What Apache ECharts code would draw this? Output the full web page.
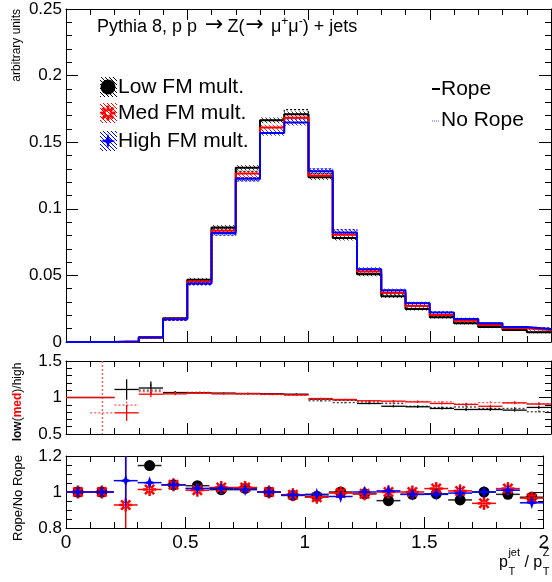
<!DOCTYPE html>
<html><head><meta charset="utf-8">
<script src="https://cdn.jsdelivr.net/npm/echarts/dist/echarts.min.js"></script>
<style>html,body{margin:0;padding:0;background:#fff}#c{width:552px;height:582px}</style>
</head><body><div id="c"></div>
<script>
// ---------------- DATA ----------------
const binStart = [0,0.1,0.2,0.3,0.4,0.5,0.6,0.7,0.8,0.9,1.0,1.1,1.2,1.3,1.4,1.5,1.6,1.7,1.8,1.9];
const binWidth = 0.1;

// top panel: normalised distributions (Rope = solid, No Rope = dotted)
const lowRope    = [0,0,0.0003,0.0035,0.0178,0.0467,0.0860,0.1308,0.1664,0.1709,0.1237,0.0780,0.0508,0.0343,0.0248,0.0186,0.0141,0.0113,0.0090,0.0073];
const medRope    = [0,0,0.0003,0.0034,0.0175,0.0455,0.0836,0.1265,0.1610,0.1684,0.1250,0.0805,0.0529,0.0369,0.0271,0.0203,0.0160,0.0128,0.0103,0.0090];
const highRope   = [0,0,0.0003,0.0033,0.0170,0.0440,0.0818,0.1225,0.1570,0.1647,0.1282,0.0823,0.0547,0.0388,0.0291,0.0221,0.0173,0.0141,0.0113,0.0098];
const lowNoRope  = [0,0,0.0003,0.0031,0.0171,0.0451,0.0849,0.1282,0.1664,0.1744,0.1266,0.0780,0.0513,0.0361,0.0251,0.0188,0.0147,0.0113,0.0091,0.0075];
const medNoRope  = [0,0,0.0003,0.0034,0.0168,0.0450,0.0816,0.1234,0.1610,0.1710,0.1287,0.0810,0.0534,0.0369,0.0271,0.0199,0.0159,0.0137,0.0101,0.0093];
const highNoRope = [0,0,0.0003,0.0031,0.0163,0.0431,0.0802,0.1209,0.1570,0.1675,0.1299,0.0844,0.0547,0.0386,0.0295,0.0224,0.0174,0.0141,0.0112,0.0105];
const bandErr    = [0,0,0.0002,0.0005,0.0010,0.0015,0.0018,0.0020,0.0022,0.0022,0.0020,0.0018,0.0015,0.0013,0.0012,0.0010,0.0010,0.0009,0.0008,0.0008];

// middle panel: low/high and med/high
const ratioLowRope       = [1.0,1.0,1.11,1.13,1.068,1.065,1.06,1.055,1.05,1.045,0.977,0.964,0.918,0.88,0.873,0.85,0.836,0.836,0.827,0.864];
const ratioLowRopeErr    = [0,0,0.14,0.09,0.02,0.01,0.01,0.01,0.01,0.01,0.01,0.01,0.012,0.015,0.015,0.015,0.02,0.02,0.02,0.02];
const ratioLowNoRope     = [null,null,null,1.10,1.06,1.07,1.055,1.05,1.05,1.04,0.955,0.93,0.94,0.918,0.88,0.864,0.87,0.85,0.85,0.805];
const ratioLowNoRopeErr  = [0,0,0,0.08,0.02,0.01,0.01,0.01,0.01,0.01,0.01,0.01,0.012,0.015,0.015,0.015,0.02,0.02,0.02,0.02];
const ratioMedRope       = [1.0,1.0,0.79,1.045,1.05,1.06,1.05,1.05,1.045,1.035,0.986,0.973,0.955,0.95,0.94,0.918,0.905,0.88,0.927,0.91];
const ratioMedRopeErr    = [0,0,0.11,0.04,0.02,0.01,0.01,0.01,0.01,0.01,0.01,0.01,0.012,0.015,0.015,0.015,0.02,0.02,0.02,0.02];
const ratioMedNoRope     = [null,0.79,0.895,1.08,1.055,1.06,1.055,1.05,1.04,1.03,0.98,0.96,0.95,0.94,0.945,0.94,0.91,0.93,0.925,0.915];
const ratioMedNoRopeErr  = [0,1.0,0.05,0.04,0.02,0.01,0.01,0.01,0.01,0.01,0.01,0.01,0.012,0.015,0.015,0.015,0.02,0.02,0.02,0.02];

// bottom panel: Rope / No Rope
const ropeLow     = [1.0,1.0,null,1.147,1.04,1.035,1.013,1.02,1.0,0.981,0.977,1.0,0.99,0.952,0.987,0.99,0.956,1.0,0.987,0.971];
const ropeLowErr  = [0.004,0.01,0,0.015,0.01,0.008,0.008,0.008,0.008,0.008,0.008,0.01,0.01,0.012,0.012,0.012,0.015,0.015,0.015,0.015];
const ropeMed     = [1.0,1.0,0.928,1.014,1.04,1.01,1.025,1.025,1.0,0.985,0.971,0.994,0.99,1.0,1.0,1.019,1.006,0.937,1.019,0.966];
const ropeMedErr  = [0.004,0.01,0.4,0.02,0.01,0.008,0.008,0.008,0.008,0.008,0.008,0.01,0.01,0.012,0.012,0.012,0.015,0.015,0.015,0.015];
const ropeHigh    = [1.0,1.0,1.063,1.052,1.04,1.02,1.02,1.013,1.0,0.983,0.987,0.975,1.0,1.006,0.987,0.987,0.994,1.0,1.01,0.94];
const ropeHighErr = [0.004,0.01,0.145,0.02,0.01,0.008,0.008,0.008,0.008,0.008,0.008,0.01,0.01,0.012,0.012,0.012,0.015,0.015,0.015,0.015];

// ---------------- STYLE / HELPERS ----------------
const FONT = '"Liberation Sans", Arial, Helvetica, sans-serif';
const SYMFONT = '"DejaVu Sans", "Liberation Sans", sans-serif';
const BLACK = '#000000', RED = '#ff0000', BLUE = '#0000ff';

function hatch(color, size) {
  const c = document.createElement('canvas');
  c.width = c.height = size;
  const g = c.getContext('2d');
  g.strokeStyle = color; g.lineWidth = 1;
  g.beginPath();
  for (const k of [-size, 0, size]) { g.moveTo(k, 0); g.lineTo(k + size, size); }
  g.stroke();
  return { image: c, repeat: 'repeat' };
}

function stepData(vals) {
  const d = binStart.map((x, i) => [x, vals[i]]);
  d.push([binStart[binStart.length - 1] + binWidth, vals[vals.length - 1]]);
  return d;
}

function clamp(v, a, b) { return Math.max(a, Math.min(b, v)); }

function bandSeries(vals, errs, color) {
  const pat = hatch(color, 4);
  return {
    type: 'custom', xAxisIndex: 0, yAxisIndex: 0, silent: true, z: 2,
    data: binStart.map((x, i) => [x, vals[i], errs[i]]),
    renderItem(params, api) {
      const x0 = api.value(0), v = api.value(1), e = api.value(2);
      const p1 = api.coord([x0, v + e]), p2 = api.coord([x0 + binWidth, v - e]);
      return { type: 'rect', shape: { x: p1[0], y: p1[1], width: p2[0] - p1[0], height: Math.max(p2[1] - p1[1], 1) },
               style: { fill: pat, opacity: 0.8 } };
    }
  };
}

function histLine(vals, color, dotted) {
  return {
    type: 'line', xAxisIndex: 0, yAxisIndex: 0, step: 'end', symbol: 'none', silent: true,
    z: dotted ? 3 : 4, data: stepData(vals),
    lineStyle: { color: color, width: dotted ? 1.2 : 2, type: dotted ? [2, 2] : 'solid' }
  };
}

function barSeries(axisIdx, vals, errs, color, dotted, width, z) {
  return {
    type: 'custom', xAxisIndex: axisIdx, yAxisIndex: axisIdx, silent: true, z: z || 3,
    data: binStart.map((x, i) => [x, vals[i], errs[i]]).filter(d => d[1] !== null),
    renderItem(params, api) {
      const cs = params.coordSys;
      const x0 = api.value(0), v = api.value(1), e = api.value(2);
      const a = api.coord([x0, v]), b = api.coord([x0 + binWidth, v]);
      const c = api.coord([x0 + binWidth / 2, v + e]), d = api.coord([x0 + binWidth / 2, v - e]);
      const st = { stroke: color, lineWidth: width, lineDash: dotted ? [2, 2] : null };
      const ch = [];
      if (a[1] >= cs.y && a[1] <= cs.y + cs.height)
        ch.push({ type: 'line', shape: { x1: a[0], y1: a[1], x2: b[0], y2: b[1] }, style: st });
      if (e > 0)
        ch.push({ type: 'line', shape: { x1: c[0], y1: clamp(c[1], cs.y, cs.y + cs.height), x2: d[0], y2: clamp(d[1], cs.y, cs.y + cs.height) }, style: st });
      return { type: 'group', children: ch };
    }
  };
}

// marker polygons (pixel coords)
function markerPolys(kind, cx, cy, size) {
  const R = size / 2;
  if (kind === 'high') {
    const r = R * 0.24;
    return [[[cx, cy - R], [cx + r, cy - r], [cx + R, cy], [cx + r, cy + r], [cx, cy + R], [cx - r, cy + r], [cx - R, cy], [cx - r, cy - r]]];
  }
  const polys = [];
  for (let k = 0; k < 8; k++) {
    const t = k * Math.PI / 4, dx = Math.cos(t), dy = Math.sin(t), px = -dy, py = dx;
    const r1 = R * 0.3, r2 = R, w = R * 0.19;
    polys.push([[cx + dx * r1 + px * w, cy + dy * r1 + py * w], [cx + dx * r2 + px * w, cy + dy * r2 + py * w],
                [cx + dx * r2 - px * w, cy + dy * r2 - py * w], [cx + dx * r1 - px * w, cy + dy * r1 - py * w]]);
  }
  return polys;
}
function markerElement(kind, cx, cy, size, color, z) {
  if (kind === 'circle') return { type: 'circle', shape: { cx: cx, cy: cy, r: size / 2 }, style: { fill: color }, silent: true, z: z };
  return { type: 'group', silent: true, z: z, children: markerPolys(kind, cx, cy, size).map(p => ({ type: 'polygon', shape: { points: p }, style: { fill: color }, z: z })) };
}

function markerSeries(vals, kind, size, color, z) {
  return {
    type: 'custom', xAxisIndex: 4, yAxisIndex: 4, silent: true, z: z,
    data: binStart.map((x, i) => [x + binWidth / 2, vals[i]]).filter(d => d[1] !== null),
    renderItem(params, api) {
      const p = api.coord([api.value(0), api.value(1)]);
      const cs = params.coordSys;
      if (p[1] < cs.y || p[1] > cs.y + cs.height) return null;
      return markerElement(kind, p[0], p[1], size, color, z);
    }
  };
}

function xAx(grid, pos, showLabel) {
  return {
    type: 'value', gridIndex: grid, position: pos, min: 0, max: 2, interval: 0.5,
    axisLine: { show: true, onZero: false, lineStyle: { color: BLACK, width: 1 } },
    axisTick: { show: true, inside: true, length: 11, lineStyle: { color: BLACK, width: 1 } },
    minorTick: { show: true, splitNumber: 5, length: 6, lineStyle: { color: BLACK, width: 1 } },
    splitLine: { show: false }, minorSplitLine: { show: false },
    axisLabel: { show: showLabel, fontFamily: FONT, fontSize: 19, color: BLACK, margin: 5 }
  };
}
function yAx(grid, pos, showLabel, min, max, interval, split) {
  return {
    type: 'value', gridIndex: grid, position: pos, min: min, max: max, interval: interval,
    axisLine: { show: true, onZero: false, lineStyle: { color: BLACK, width: 1 } },
    axisTick: { show: true, inside: true, length: 12, lineStyle: { color: BLACK, width: 1 } },
    minorTick: { show: true, splitNumber: split, length: 6, lineStyle: { color: BLACK, width: 1 } },
    splitLine: { show: false }, minorSplitLine: { show: false },
    axisLabel: { show: showLabel, fontFamily: FONT, fontSize: 17, color: BLACK, margin: 4 }
  };
}

// text measuring for flowed text
const mctx = document.createElement('canvas').getContext('2d');
function tw(t, size, family) { mctx.font = 'normal ' + size + 'px ' + (family || FONT); return mctx.measureText(t).width; }
function txt(t, x, baseline, size, opts) {
  opts = opts || {};
  return { type: 'text', x: x, y: baseline - 0.35 * size, silent: true, z: 50,
    style: { text: t, fontSize: size, fontFamily: opts.family || FONT, fontWeight: opts.weight || 'normal', fill: opts.color || BLACK,
             align: opts.align || 'left', textAlign: opts.align || 'left', verticalAlign: 'middle', textVerticalAlign: 'middle' } };
}
function flow(pieces, x, baseline) {
  const els = []; let cx = x;
  pieces.forEach(p => { cx += (p.pre || 0); els.push(txt(p.t, cx, baseline - (p.rise || 0), p.size, { family: p.family })); cx += tw(p.t, p.size, p.family) + (p.gap || 0); });
  return els;
}

// ---------------- GRAPHICS (texts, legends) ----------------
const graphics = [];
// header
const HS = 18;
graphics.push(...flow([
  { t: 'Pythia 8, p p', size: HS },
  { t: '\u2192', size: 22, family: SYMFONT, pre: 8, gap: 4 },
  { t: 'Z(', size: HS },
  { t: '\u2192', size: 22, family: SYMFONT, pre: 1, gap: 2 },
  { t: ' \u03bc', size: HS },
  { t: '+', size: 12, rise: 7 },
  { t: '\u03bc', size: HS },
  { t: '-', size: 12, rise: 7 },
  { t: ') + jets', size: HS }
], 97, 33));

// left legend
const legY = [87, 113, 141];
const legItems = [
  { label: 'Low FM mult.', color: BLACK, kind: 'circle' },
  { label: 'Med FM mult.', color: RED, kind: 'med' },
  { label: 'High FM mult.', color: BLUE, kind: 'high' }
];
legItems.forEach((it, i) => {
  const yc = legY[i];
  graphics.push({ type: 'rect', shape: { x: 100, y: yc - 10, width: 17, height: 20 }, style: { fill: hatch(it.color, 4) }, silent: true, z: 40 });
  graphics.push(markerElement(it.kind, 108, yc, 15, it.color, 41));
  graphics.push(txt(it.label, 118, yc + 7.5, 21));
});

// right legend
graphics.push({ type: 'line', shape: { x1: 432, y1: 89, x2: 440, y2: 89 }, style: { stroke: BLACK, lineWidth: 2 }, silent: true, z: 40 });
graphics.push(txt('Rope', 441, 96.5, 21));
graphics.push({ type: 'line', shape: { x1: 432, y1: 121, x2: 440, y2: 121 }, style: { stroke: '#5555ff', lineWidth: 1, lineDash: [1, 1] }, silent: true, z: 40 });
graphics.push(txt('No Rope', 441, 127.5, 21));

// y-axis titles
graphics.push({ type: 'text', x: 17, y: 9, rotation: Math.PI / 2, silent: true, z: 50,
  style: { text: 'arbitrary units', fontSize: 12, fontFamily: FONT, fill: BLACK, align: 'right', textAlign: 'right', verticalAlign: 'middle', textVerticalAlign: 'middle' } });
graphics.push({ type: 'text', x: 18, y: 402, rotation: Math.PI / 2, silent: true, z: 50,
  style: { text: '{b|low}{n|(}{r|med}{n|)/high}', fontSize: 12, fontFamily: FONT, fill: BLACK,
           align: 'center', textAlign: 'center', verticalAlign: 'middle', textVerticalAlign: 'middle',
           rich: { b: { fontWeight: 'bold', fontSize: 12, fontFamily: FONT, fill: BLACK },
                   r: { fontWeight: 'bold', fontSize: 12, fontFamily: FONT, fill: RED },
                   n: { fontSize: 12, fontFamily: FONT, fill: BLACK } } } });
graphics.push({ type: 'text', x: 18, y: 498, rotation: Math.PI / 2, silent: true, z: 50,
  style: { text: 'Rope/No Rope', fontSize: 13, fontFamily: FONT, fill: BLACK, align: 'center', textAlign: 'center', verticalAlign: 'middle', textVerticalAlign: 'middle' } });

// x-axis title  p_T^jet / p_T^Z
(function () {
  const base = 568, S = 16, s = 11;
  let x = 499;
  graphics.push(txt('p', x, base, S)); x += tw('p', S) + 0.5;
  graphics.push(txt('jet', x, base - 11, s)); graphics.push(txt('T', x, base + 8, s));
  x += Math.max(tw('jet', s), tw('T', s));
  graphics.push(txt(' / ', x, base, S)); x += tw(' / ', S);
  graphics.push(txt('p', x, base, S)); x += tw('p', S) + 0.5;
  graphics.push(txt('Z', x, base - 11, s)); graphics.push(txt('T', x, base + 8, s));
})();

// ---------------- SERIES ----------------
const series = [];
// top panel
series.push(bandSeries(lowRope, bandErr, BLACK));
series.push(bandSeries(medRope, bandErr, RED));
series.push(bandSeries(highRope, bandErr, BLUE));
series.push(histLine(lowNoRope, BLACK, true));
series.push(histLine(medNoRope, RED, true));
series.push(histLine(highNoRope, BLUE, true));
series.push(histLine(lowRope, BLACK, false));
series.push(histLine(medRope, RED, false));
series.push(histLine(highRope, BLUE, false));
// middle panel
series.push(barSeries(2, ratioLowNoRope, ratioLowNoRopeErr, '#444444', true, 1.3, 3));
series.push(barSeries(2, ratioLowRope, ratioLowRopeErr, BLACK, false, 1.3, 4));
series.push(barSeries(2, ratioMedNoRope, ratioMedNoRopeErr, '#ff5555', true, 1.3, 5));
series.push(barSeries(2, ratioMedRope, ratioMedRopeErr, RED, false, 1.3, 6));
// bottom panel
series.push(barSeries(4, ropeLow, ropeLowErr, '#222222', false, 1.5, 3));
series.push(markerSeries(ropeLow, 'circle', 11, BLACK, 4));
series.push(barSeries(4, ropeMed, ropeMedErr, RED, false, 1.5, 5));
series.push(markerSeries(ropeMed, 'med', 13, RED, 6));
series.push(barSeries(4, ropeHigh, ropeHighErr, BLUE, false, 1.5, 7));
series.push(markerSeries(ropeHigh, 'high', 13, BLUE, 8));

const option = {
  animation: false,
  backgroundColor: '#ffffff',
  grid: [
    { left: 66, right: 1, top: 9, height: 333 },
    { left: 66, right: 1, top: 361, height: 73 },
    { left: 66, right: 1, top: 456, height: 72 }
  ],
  xAxis: [xAx(0, 'bottom', false), xAx(0, 'top', false), xAx(1, 'bottom', false), xAx(1, 'top', false), xAx(2, 'bottom', true), xAx(2, 'top', false)],
  yAxis: [yAx(0, 'left', true, 0, 0.25, 0.05, 5), yAx(0, 'right', false, 0, 0.25, 0.05, 5),
          yAx(1, 'left', true, 0.5, 1.5, 0.5, 5), yAx(1, 'right', false, 0.5, 1.5, 0.5, 5),
          yAx(2, 'left', true, 0.8, 1.2, 0.2, 4), yAx(2, 'right', false, 0.8, 1.2, 0.2, 4)],
  series: series,
  graphic: graphics
};
const chart = echarts.init(document.getElementById('c'), null, { renderer: 'canvas' });
chart.setOption(option);
</script>
</body></html>
